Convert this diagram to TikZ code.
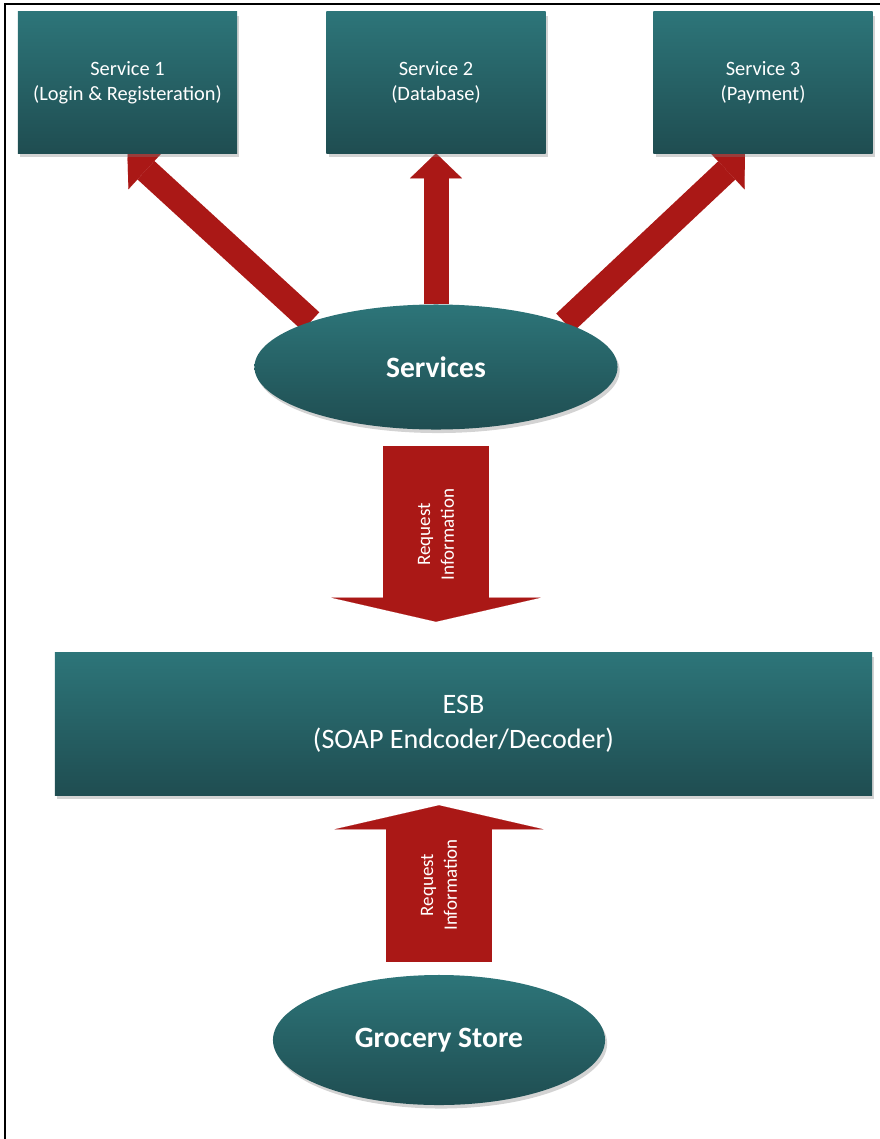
\documentclass[tikz,border=0pt]{standalone}
\usepackage{fontspec}
\setmainfont{Carlito}
\usetikzlibrary{arrows.meta,shapes.geometric,shadows,backgrounds,positioning}
\definecolor{tealtop}{RGB}{45,117,121}
\definecolor{tealbot}{RGB}{31,77,81}
\definecolor{arrowred}{RGB}{170,24,22}
\tikzset{
	tealfill/.style={top color=tealtop, bottom color=tealbot, text=white, align=center, inner sep=0pt,
		drop shadow={opacity=0.35, shadow xshift=1.5pt, shadow yshift=-2.5pt}},
	svcbox/.style={tealfill, rectangle, minimum width=5.475cm, minimum height=3.525cm,
		font=\fontsize{14.5}{17.8}\selectfont},
	svcell/.style={tealfill, ellipse, font=\fontsize{21}{25}\selectfont\bfseries},
	thinarrow/.style={arrowred, line width=0.625cm, -{Triangle[width=1.3cm, length=0.625cm, line width=0.1pt]}},
	fatarrow/.style={arrowred, line width=2.65cm, -{Triangle[width=5.225cm, length=0.6cm, line width=0.1pt]}},
	arrowtext/.style={text=white, align=center, inner sep=0pt, rotate=90, font=\fontsize{13.5}{17}\selectfont}
}
\begin{document}
\begin{tikzpicture}[x=0.025cm, y=-0.025cm]
	\useasboundingbox (0,0) rectangle (880,1139);
	\draw[line width=1.2pt] (5,1139) -- (5,4) -- (880,4);
	% service boxes
	\node[svcbox] (s1) at (127.5,82.5) {Service 1\\(Login \& Registeration)};
	\node[svcbox] (s2) at (436,82.5) {Service 2\\(Database)};
	\node[svcbox] (s3) at (763,82.5) {Service 3\\(Payment)};
	\node[svcell, minimum width=9.075cm, minimum height=3.125cm] (services) at (436,367) {Services};
	\node[tealfill, rectangle, minimum width=20.425cm, minimum height=3.55cm, font=\fontsize{20}{25}\selectfont] (esb) at (463.5,724) {ESB\\(SOAP Endcoder/Decoder)};
	\node[svcell, minimum width=8.3cm, minimum height=3.25cm] (grocery) at (439,1040) {Grocery Store};
	% arrows
	\begin{scope}[on background layer]
		\draw[thinarrow] (services.160) -- (s1.south);
		\draw[thinarrow] (services.north) -- (s2.south);
		\draw[thinarrow] (services.19) -- ([xshift=-0.45cm]s3.south);
		\draw[fatarrow, shorten <=0.4cm, shorten >=0.775cm] (services.south) -- (services.south |- esb.north)
			node[pos=0.47, arrowtext] {Request\\Information};
		\draw[fatarrow, shorten <=0.325cm, shorten >=0.25cm] (grocery.north) -- (grocery.north |- esb.south)
			node[midway, arrowtext] {Request\\Information};
	\end{scope}
\end{tikzpicture}
\end{document}
